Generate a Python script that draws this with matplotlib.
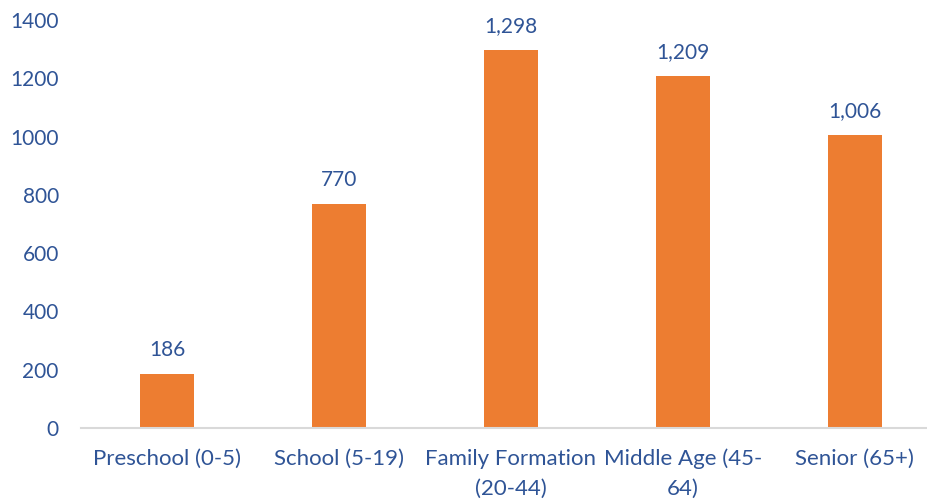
import matplotlib.pyplot as plt

# Population by age group
categories = ["Preschool (0-5)", "School (5-19)", "Family Formation\n(20-44)",
              "Middle Age (45-\n64)", "Senior (65+)"]
values = [186, 770, 1298, 1209, 1006]
yticks = [0, 200, 400, 600, 800, 1000, 1200, 1400]

bar_color = "#ED7D31"
text_color = "#2F5496"

plt.rcParams['font.family'] = ['Lato', 'DejaVu Sans']

fig = plt.figure(figsize=(9.27, 5.01), dpi=100)
ax = fig.add_axes([81 / 927, 73 / 501, 846 / 927, 408 / 501])

x = list(range(len(categories)))
ax.bar(x, values, width=0.314, color=bar_color, zorder=2)

for xi, v in zip(x, values):
    ax.annotate(f"{v:,}", (xi, v), xytext=(0, 10), textcoords="offset points",
                ha="center", va="bottom", color=text_color, fontsize=15)

ax.set_xlim(-0.5, 4.42)
ax.set_ylim(0, 1400)
ax.set_yticks(yticks)
ax.set_xticks(x)
ax.set_xticklabels(categories, linespacing=1.6, fontsize=16)

ax.tick_params(axis="both", length=0, colors=text_color)
ax.tick_params(axis="y", pad=16, labelsize=15)
ax.tick_params(axis="x", pad=15)

for side in ["top", "right", "left"]:
    ax.spines[side].set_visible(False)
ax.spines["bottom"].set_color("#D9D9D9")
ax.spines["bottom"].set_linewidth(1.5)

fig.savefig("out.png", dpi=100)
